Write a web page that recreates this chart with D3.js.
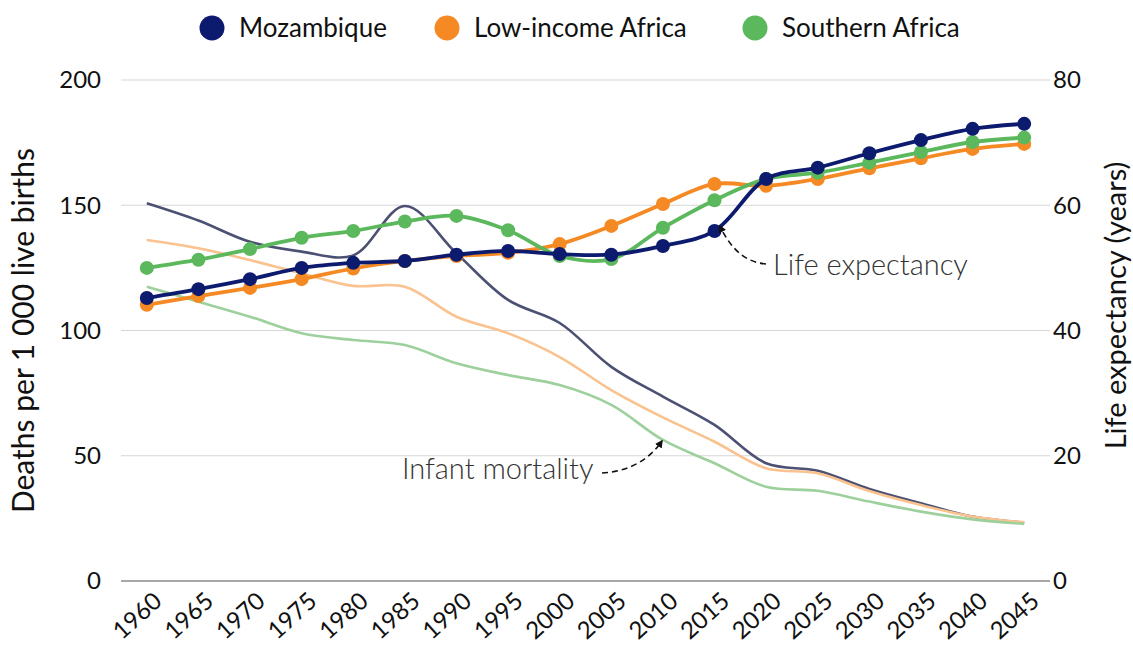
<!DOCTYPE html>
<html>
<head>
<meta charset="utf-8">
<script src="https://cdn.jsdelivr.net/npm/d3@7"></script>
<style>
  body { margin: 0; background: #fff; }
  svg { font-family: Lato, "Open Sans", sans-serif; }
</style>
</head>
<body>
<div id="chart"></div>
<script>
const width = 1133;
const height = 648;

const years = [1960, 1965, 1970, 1975, 1980, 1985, 1990, 1995, 2000, 2005,
  2010, 2015, 2020, 2025, 2030, 2035, 2040, 2045];

// Life expectancy (years), right axis
const lifeMozambique = [45.2, 46.6, 48.2, 50.0, 50.8, 51.1, 52.1, 52.7, 52.2, 52.1,
  53.5, 55.9, 64.2, 66.0, 68.3, 70.4, 72.2, 73.0];
const lifeLowIncome = [44.1, 45.5, 46.8, 48.2, 49.9, 51.1, 51.9, 52.4, 53.8, 56.7,
  60.2, 63.4, 63.1, 64.2, 65.9, 67.5, 69.0, 69.8];
const lifeSouthern = [50.0, 51.3, 53.0, 54.8, 55.9, 57.4, 58.3, 56.0, 51.9, 51.4,
  56.4, 60.8, 64.2, 65.2, 66.8, 68.5, 70.1, 70.8];

// Infant mortality (deaths per 1 000 live births), left axis
const infantMozambique = [150.8, 143.9, 135.4, 131.5, 130.0, 149.7, 130.8, 112.2, 103.0, 85.5,
  73.6, 62.3, 47.0, 44.0, 36.7, 31.0, 25.7, 23.3];
const infantLowIncome = [136.1, 132.8, 128.1, 122.8, 117.8, 117.5, 105.5, 98.9, 89.4, 76.2,
  65.3, 55.6, 45.0, 43.0, 35.9, 30.3, 25.7, 23.4];
const infantSouthern = [117.5, 111.5, 105.5, 98.9, 96.2, 94.2, 86.9, 82.2, 78.2, 70.3,
  56.3, 47.0, 37.6, 36.0, 31.7, 27.7, 24.6, 22.8];

const seriesNames = ['Mozambique', 'Low-income Africa', 'Southern Africa'];
const strongColors = ['#0d1b6e', '#f58a24', '#5cb85c'];
const lightColors = ['#4c5173', '#f9c28f', '#9dd09d'];

const leftTicks = [0, 50, 100, 150, 200];
const rightTicks = [0, 20, 40, 60, 80];

const lifeSeries = [lifeMozambique, lifeLowIncome, lifeSouthern];
const infantSeries = [infantMozambique, infantLowIncome, infantSouthern];

const margin = { top: 80, right: 83, bottom: 67, left: 121 };

const svg = d3.select('#chart')
  .append('svg')
    .attr('width', width)
    .attr('height', height);

const x = d3.scaleBand()
  .domain(years)
  .range([margin.left, width - margin.right]);
const cx = d => x(d) + x.bandwidth() / 2;

const yLeft = d3.scaleLinear()
  .domain([0, 200])
  .range([height - margin.bottom, margin.top]);
const yRight = d3.scaleLinear()
  .domain([0, 80])
  .range([height - margin.bottom, margin.top]);

// Gridlines
svg.append('g')
  .selectAll('line')
  .data(leftTicks)
  .join('line')
    .attr('x1', margin.left)
    .attr('x2', width - margin.right)
    .attr('y1', d => yLeft(d))
    .attr('y2', d => yLeft(d))
    .attr('stroke', d => d === 0 ? '#a8a8a8' : '#d6d6d6')
    .attr('stroke-width', d => d === 0 ? 2 : 1.2);

// Left axis labels
svg.append('g')
  .selectAll('text')
  .data(leftTicks)
  .join('text')
    .attr('x', 101)
    .attr('y', d => yLeft(d))
    .attr('dy', '0.35em')
    .attr('text-anchor', 'end')
    .attr('font-size', 24)
    .attr('fill', '#111')
    .text(d => d);

// Right axis labels
svg.append('g')
  .selectAll('text')
  .data(rightTicks)
  .join('text')
    .attr('x', width - margin.right + 3)
    .attr('y', d => yRight(d))
    .attr('dy', '0.35em')
    .attr('text-anchor', 'start')
    .attr('font-size', 24)
    .attr('fill', '#111')
    .text(d => d);

// X axis labels, rotated
svg.append('g')
  .selectAll('text')
  .data(years)
  .join('text')
    .attr('transform', d => `translate(${cx(d) + 11},${height - margin.bottom + 16}) rotate(-42)`)
    .attr('text-anchor', 'end')
    .attr('dy', '0.35em')
    .attr('font-size', 24)
    .attr('fill', '#111')
    .text(d => d);

// Axis titles
svg.append('text')
  .attr('transform', `translate(34,${(yLeft(0) + yLeft(200)) / 2}) rotate(-90)`)
  .attr('text-anchor', 'middle')
  .attr('font-size', 30)
  .attr('fill', '#111')
  .text('Deaths per 1 000 live births');

svg.append('text')
  .attr('transform', `translate(1126,${(yRight(0) + yRight(80)) / 2 - 25}) rotate(-90)`)
  .attr('text-anchor', 'middle')
  .attr('font-size', 29)
  .attr('fill', '#111')
  .text('Life expectancy (years)');

// Infant mortality lines (no markers)
const infantLine = d3.line()
  .x((d, i) => cx(years[i]))
  .y(d => yLeft(d))
  .curve(d3.curveCatmullRom.alpha(0.5));

svg.append('g')
  .selectAll('path')
  .data(infantSeries)
  .join('path')
    .attr('d', infantLine)
    .attr('fill', 'none')
    .attr('stroke', (d, i) => lightColors[i])
    .attr('stroke-width', 2.6);

// Life expectancy lines with markers
const lifeLine = d3.line()
  .x((d, i) => cx(years[i]))
  .y(d => yRight(d))
  .curve(d3.curveCatmullRom.alpha(0.5));

const lifeOrder = [1, 2, 0];
lifeOrder.forEach(i => {
  const g = svg.append('g');
  g.append('path')
    .attr('d', lifeLine(lifeSeries[i]))
    .attr('fill', 'none')
    .attr('stroke', strongColors[i])
    .attr('stroke-width', 3.8);
  g.selectAll('circle')
    .data(lifeSeries[i])
    .join('circle')
      .attr('cx', (d, j) => cx(years[j]))
      .attr('cy', d => yRight(d))
      .attr('r', 7)
      .attr('fill', strongColors[i]);
});

// Legend
const legendX = [212, 447, 755];
const legend = svg.append('g')
  .selectAll('g')
  .data(seriesNames)
  .join('g')
    .attr('transform', (d, i) => `translate(${legendX[i]},28)`);
legend.append('circle')
  .attr('r', 12.5)
  .attr('fill', (d, i) => strongColors[i]);
legend.append('text')
  .attr('x', 27)
  .attr('dy', '0.35em')
  .attr('font-size', 26)
  .attr('fill', '#111')
  .text(d => d);

// Annotations
svg.append('defs').append('marker')
  .attr('id', 'arrow')
  .attr('viewBox', '0 0 10 10')
  .attr('refX', 8)
  .attr('refY', 5)
  .attr('markerWidth', 5)
  .attr('markerHeight', 5)
  .attr('orient', 'auto')
  .append('path')
    .attr('d', 'M0,0L10,5L0,10z')
    .attr('fill', '#111');

const lifeTarget = [cx(2015) + 5, yRight(lifeMozambique[11]) - 5];
svg.append('path')
  .attr('d', `M766,264 C745,262 732,250 ${lifeTarget[0]},${lifeTarget[1]}`)
  .attr('fill', 'none')
  .attr('stroke', '#111')
  .attr('stroke-width', 1.6)
  .attr('stroke-dasharray', '6,4')
  .attr('marker-end', 'url(#arrow)');
svg.append('text')
  .attr('x', 773)
  .attr('y', 275)
  .attr('font-size', 29)
  .attr('font-weight', 300)
  .attr('fill', '#333')
  .text('Life expectancy');

const infantTarget = [cx(2010) - 1, yLeft(infantSouthern[10]) + 1];
svg.append('path')
  .attr('d', `M602,473 C625,472 648,462 ${infantTarget[0]},${infantTarget[1]}`)
  .attr('fill', 'none')
  .attr('stroke', '#111')
  .attr('stroke-width', 1.6)
  .attr('stroke-dasharray', '6,4')
  .attr('marker-end', 'url(#arrow)');
svg.append('text')
  .attr('x', 402)
  .attr('y', 479)
  .attr('font-size', 29)
  .attr('font-weight', 300)
  .attr('fill', '#333')
  .text('Infant mortality');
</script>
</body>
</html>
